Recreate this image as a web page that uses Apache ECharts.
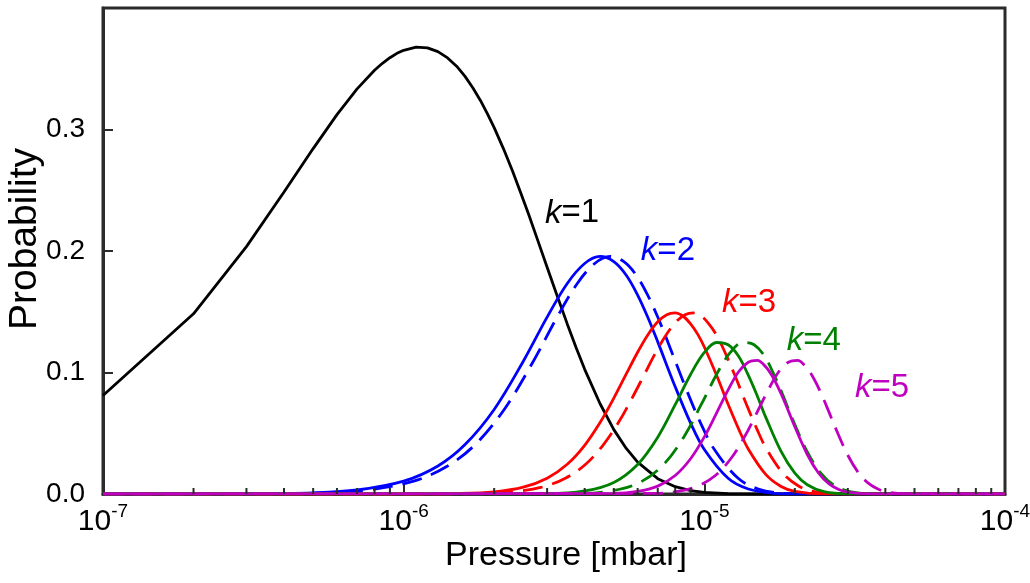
<!DOCTYPE html>
<html><head><meta charset="utf-8">
<script src="https://cdn.jsdelivr.net/npm/echarts@6/dist/echarts.min.js"></script>
<style>html,body{margin:0;padding:0;background:#fff}#c{width:1030px;height:583px}</style>
</head><body><div id="c"></div>
<script>
const FONT = '"Liberation Sans", Arial, Helvetica, sans-serif';
const UNIT = 1e-6; // pressures below are in units of 1e-6 mbar

// k=1 (black, solid)
const pK1 = [0.1,0.2,0.3,0.4,0.5,0.6,0.7,0.8,0.85,0.9,0.95,1.0,1.1,1.2,1.3,1.4,1.5,1.6,1.7,1.8,1.9,2.0,2.15,2.3,2.45,2.6,2.8,3.0,3.25,3.5,3.75,4.0,4.5,5.0,5.5,6,7,8,9,10,12,15,20,100];
const yK1 = [0.0810,0.1483,0.2036,0.2485,0.2843,0.3122,0.3334,0.3488,0.3545,0.3591,0.3627,0.3652,0.3678,0.3672,0.3641,0.3589,0.3521,0.3437,0.3341,0.3239,0.3129,0.3015,0.2839,0.2660,0.2480,0.2306,0.2079,0.1866,0.1622,0.1400,0.1201,0.1026,0.0743,0.0530,0.0375,0.0262,0.0126,0.0060,0.0028,0.0013,0.0003,0,0,0];

// k=2 (blue)
const pK2 = [0.1,0.3,0.5,0.7,1.0,1.3,1.6,2.0,2.5,3.0,3.5,4.0,4.5,5.0,5.5,6.0,6.5,7,8,9,10,12,14,17,20,100];
const yK2 = [0,0.0002,0.0010,0.0033,0.0106,0.0231,0.0407,0.0696,0.1093,0.1456,0.1733,0.1897,0.1955,0.1912,0.1800,0.1637,0.1449,0.1252,0.0883,0.0584,0.0366,0.0129,0.0041,0.0006,0.0001,0];
const pK2d = [0.1,0.32,0.54,0.76,1.08,1.4,1.73,2.16,2.7,3.24,3.78,4.32,4.86,5.4,5.94,6.48,7.02,7.56,8.64,9.72,10.8,12.96,15.12,18.36,21.6,100];
const yK2d = [0,0.0002,0.0010,0.0033,0.0106,0.0231,0.0407,0.0696,0.1093,0.1456,0.1733,0.1897,0.1955,0.1912,0.1800,0.1637,0.1449,0.1252,0.0883,0.0584,0.0366,0.0129,0.0041,0.0006,0.0001,0];

// k=3 (red)
const pK3 = [0.1,1.0,1.5,2.0,2.5,3.0,3.5,4.0,4.5,5.0,5.5,6.0,6.5,7.0,7.5,8.0,8.5,9.0,9.5,10,11,12,13,14,16,18,20,25,100];
const yK3 = [0,0,0.0004,0.0018,0.0056,0.0130,0.0245,0.0401,0.0588,0.0789,0.0988,0.1167,0.1313,0.1417,0.1476,0.1490,0.1463,0.1401,0.1316,0.1210,0.0973,0.0738,0.0536,0.0370,0.0161,0.0062,0.0022,0.0001,0];
const pK3d = [0.1,1.15,1.73,2.3,2.88,3.45,4.03,4.6,5.18,5.75,6.33,6.9,7.48,8.05,8.63,9.2,9.78,10.35,10.93,11.5,12.65,13.8,14.95,16.1,18.4,20.7,23,28.75,100];
const yK3d = [0,0,0.0004,0.0018,0.0056,0.0130,0.0245,0.0401,0.0588,0.0789,0.0988,0.1167,0.1313,0.1417,0.1476,0.1490,0.1463,0.1401,0.1316,0.1210,0.0973,0.0738,0.0536,0.0370,0.0161,0.0062,0.0022,0.0001,0];

// k=4 (green)
const pK4 = [0.1,3,4,5,6,7,8,9,10,11,12,13,14,15,16,18,20,22,25,30,100];
const yK4 = [0,0.0003,0.0025,0.0095,0.0243,0.0468,0.0735,0.0984,0.1165,0.1247,0.1228,0.1134,0.0978,0.0807,0.0633,0.0350,0.0171,0.0076,0.0019,0.0001,0];
const pK4d = [0.1,3.66,4.88,6.1,7.32,8.54,9.76,10.98,12.2,13.42,14.64,15.86,17.08,18.3,19.52,21.96,24.4,26.84,30.5,36.6,100];
const yK4d = [0,0.0003,0.0025,0.0095,0.0243,0.0468,0.0735,0.0984,0.1165,0.1247,0.1228,0.1134,0.0978,0.0807,0.0633,0.0350,0.0171,0.0076,0.0019,0.0001,0];

// k=5 (magenta)
const pK5 = [0.1,5,6,7,8,9,10,11,12,13,14,15,16,17,18,19,20,22,24,26,28,30,35,100];
const yK5 = [0,0.0005,0.0021,0.0065,0.0152,0.0290,0.0470,0.0670,0.0857,0.1006,0.1084,0.1099,0.1047,0.0951,0.0825,0.0688,0.0553,0.0325,0.0171,0.0083,0.0037,0.0015,0.0001,0];
const pK5d = [0.1,6.8,8.16,9.52,10.88,12.24,13.6,14.96,16.32,17.68,19.04,20.4,21.76,23.12,24.48,25.84,27.2,29.92,32.64,35.36,38.08,40.8,47.6,100];
const yK5d = [0,0.0005,0.0021,0.0065,0.0152,0.0290,0.0470,0.0670,0.0857,0.1006,0.1084,0.1099,0.1047,0.0951,0.0825,0.0688,0.0553,0.0325,0.0171,0.0083,0.0037,0.0015,0.0001,0];

// minor tick positions on the log axis (mbar)
const minorTicks = [2e-7,3e-7,4e-7,5e-7,6e-7,7e-7,8e-7,9e-7,2e-6,3e-6,4e-6,5e-6,6e-6,7e-6,8e-6,9e-6,2e-5,3e-5,4e-5,5e-5,6e-5,7e-5,8e-5,9e-5];
const yTicks = ['0.0','0.1','0.2','0.3'];

// curve labels
const labelK = ['1','2','3','4','5'];
const labelP = [2.95e-6, 6.15e-6, 1.144e-5, 1.88e-5, 3.17e-5];
const labelY = [0.231, 0.200, 0.157, 0.126, 0.087];
const labelColor = ['#000000','#0000ff','#ff0000','#008000','#c000c0'];

const COLORS = {k1:'#000000', k2:'#0000ff', k3:'#ff0000', k4:'#008000', k5:'#c000c0'};
const LW = 2.8;
const DASH = [20, 10];

function pairs(p, y){ return p.map((v,i)=>[v*UNIT, y[i]]); }
function line(p, y, color, dashed, smooth){
  return {type:'line', data:pairs(p,y), showSymbol:false, symbol:'none', smooth: smooth, silent:true,
    lineStyle:{color:color, width:LW, type: dashed ? DASH : 'solid'}, itemStyle:{color:color}};
}

const chart = echarts.init(document.getElementById('c'), null, {renderer:'canvas'});
const option = {
  animation:false,
  backgroundColor:'#ffffff',
  grid:{left:103, top:8, width:902, height:486, containLabel:false, outerBoundsMode:'none',
    show:true, borderColor:'#2b2b2b', borderWidth:3, backgroundColor:'transparent'},
  xAxis:{type:'log', logBase:10, min:1e-7, max:1e-4,
    name:'Pressure [mbar]', nameLocation:'middle', nameGap:45, nameMoveOverlap:false,
    nameTextStyle:{fontFamily:FONT, fontSize:34, color:'#000', padding:[0,0,0,24]},
    axisLine:{show:true, lineStyle:{color:'#2b2b2b', width:3}},
    axisTick:{show:true, inside:true, length:10, lineStyle:{color:'#2b2b2b', width:2}},
    minorTick:{show:false},
    splitLine:{show:false},
    axisLabel:{margin:8, color:'#000',
      formatter:function(v){ const e = Math.round(Math.log10(v)); return '{b|10}{s|' + e + '}'; },
      rich:{ b:{fontFamily:FONT, fontSize:30, color:'#000', lineHeight:35, verticalAlign:'bottom'},
             s:{fontFamily:FONT, fontSize:19, color:'#000', lineHeight:35, verticalAlign:'top'} } }
  },
  yAxis:{type:'value', min:0, max:0.4, interval:0.1,
    name:'Probability', nameLocation:'middle', nameGap:58, nameMoveOverlap:false,
    nameTextStyle:{fontFamily:FONT, fontSize:39, color:'#000', padding:[0,0,0,24]},
    axisLine:{show:true, lineStyle:{color:'#2b2b2b', width:3}},
    axisTick:{show:true, inside:true, length:10, lineStyle:{color:'#2b2b2b', width:2}},
    splitLine:{show:false},
    axisLabel:{margin:18, fontFamily:FONT, fontSize:28, color:'#000',
      formatter:function(v){ const i = Math.round(v*10); return i < yTicks.length ? yTicks[i] : ''; } }
  },
  series:[
    {type:'custom', silent:true, clip:false, z:5,
      data: minorTicks.map(v=>[v,0]),
      renderItem:function(params, api){
        const pt = api.coord([api.value(0), 0]);
        return {type:'line', shape:{x1:pt[0], y1:pt[1], x2:pt[0], y2:pt[1]-6}, style:{stroke:'#2b2b2b', lineWidth:2}};
      }},
    line(pK1, yK1, COLORS.k1, false, false),
    line(pK2, yK2, COLORS.k2, false, 0.35),
    line(pK2d, yK2d, COLORS.k2, true, 0.35),
    line(pK3, yK3, COLORS.k3, false, 0.35),
    line(pK3d, yK3d, COLORS.k3, true, 0.35),
    line(pK4, yK4, COLORS.k4, false, 0.35),
    line(pK4d, yK4d, COLORS.k4, true, 0.35),
    line(pK5, yK5, COLORS.k5, false, 0.35),
    line(pK5d, yK5d, COLORS.k5, true, 0.35)
  ]
};
chart.setOption(option);

const graphics = labelK.map(function(k, i){
  const pt = chart.convertToPixel({gridIndex:0}, [labelP[i], labelY[i]]);
  const c = labelColor[i];
  return {type:'text', x:pt[0], y:pt[1], z:100, silent:true,
    style:{text:'{i|k}{n|=' + k + '}', verticalAlign:'middle', align:'left',
      rich:{ i:{fontFamily:FONT, fontSize:33, fontStyle:'italic', fill:c},
             n:{fontFamily:FONT, fontSize:33, fill:c} } } };
});
chart.setOption({graphic:graphics});
</script>
</body></html>
